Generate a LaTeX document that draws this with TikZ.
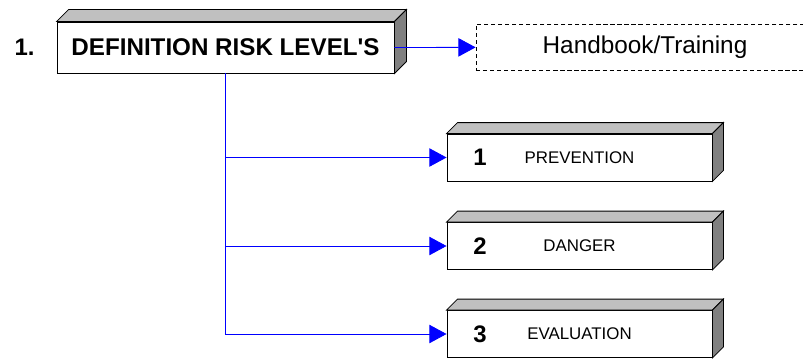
\documentclass[tikz,border=0pt]{standalone}
\usepackage{fontspec}
\setmainfont{Liberation Sans}
\usetikzlibrary{arrows.meta,calc}

\definecolor{topgray}{HTML}{C0C0C0}
\definecolor{sidegray}{HTML}{808080}

\begin{document}
\begin{tikzpicture}[x=0.025cm,y=-0.025cm,>={Triangle[length=0.43cm,width=0.46cm]},
  line width=0.6pt,
  box/.style={draw,fill=white,inner sep=0pt},
  main box/.style={box,minimum width=8.425cm,minimum height=1.275cm,font=\fontsize{17.2}{20}\selectfont\bfseries},
  level box/.style={box,minimum width=6.625cm,minimum height=1.175cm,font=\fontsize{12}{14}\selectfont},
  dash box/.style={draw,densely dashed,line width=0.5pt,inner sep=0pt,minimum width=8.45cm,minimum height=1.15cm,font=\fontsize{17.3}{20}\selectfont},
  num/.style={font=\fontsize{17}{20}\selectfont\bfseries},
  top face/.style={draw,fill=topgray},
  side face/.style={draw,fill=sidegray},
  link/.style={blue,line width=0.6pt}]

  \useasboundingbox (0,0) rectangle (803,358);

  \node[num] (step) at (24.5,47) {1.};
  \node[main box] (def) at (225.5,47.5) {DEFINITION RISK LEVEL\textquotesingle S};
  \node[dash box] (hb) at (645,47) {Handbook/Training};
  \node[level box] (p1) at (579.5,157.5) {PREVENTION};
  \node[level box] (p2) at (579.5,246) {DANGER};
  \node[level box] (p3) at (579.5,334) {EVALUATION};
  \node[num] (n1) at (480,157.5) {1};
  \node[num] (n2) at (480,246) {2};
  \node[num] (n3) at (480,334) {3};

  % 3d faces
  \foreach \n/\d in {def/12,p1/11,p2/11,p3/11} {
    \path[top face] (\n.north west) -- ++(\d,-\d) -- ($(\n.north east)+(\d,-\d)$) -- (\n.north east) -- cycle;
    \path[side face] (\n.north east) -- ++(\d,-\d) -- ($(\n.south east)+(\d,-\d)$) -- (\n.south east) -- cycle;
  }

  \path[link,->]
    (def.east) edge (hb)
    (def.south) edge[to path={|- (\tikztotarget)}] (p1)
    (def.south) edge[to path={|- (\tikztotarget)}] (p2)
    (def.south) edge[to path={|- (\tikztotarget)}] (p3)
    ;

\end{tikzpicture}
\end{document}
